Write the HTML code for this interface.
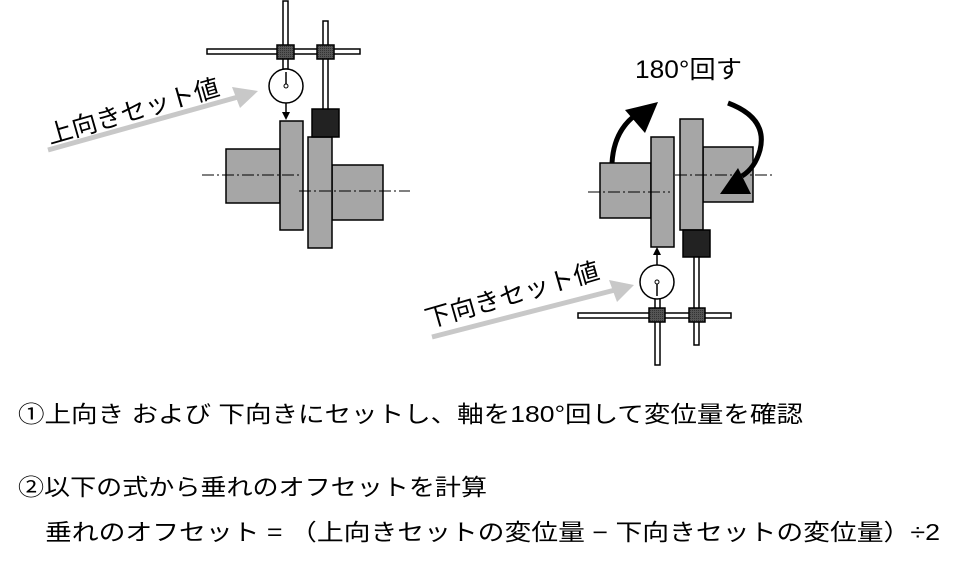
<!DOCTYPE html>
<html><head><meta charset="utf-8"><style>
html,body{margin:0;padding:0;background:#fff;}
svg{display:block;}
text{font-family:"Liberation Sans","Noto Sans CJK JP",sans-serif;fill:#000;}
</style></head><body>
<svg width="957" height="564" viewBox="0 0 957 564" xmlns="http://www.w3.org/2000/svg">
<defs><pattern id="dot" width="2" height="2" patternUnits="userSpaceOnUse"><rect width="2" height="2" fill="#555"/><rect width="1" height="1" fill="#333"/></pattern></defs>
<!-- LEFT DIAGRAM -->
<g stroke="#000" stroke-width="1.5">
<rect x="226" y="149" width="54" height="54" fill="#a6a6a6"/>
<rect x="332" y="165" width="51" height="55" fill="#a6a6a6"/>
<rect x="280" y="121" width="23" height="109" fill="#a6a6a6"/>
<rect x="308" y="137" width="24" height="111" fill="#a6a6a6"/>
<rect x="312" y="109" width="27" height="28" fill="#222"/>
<rect x="283" y="1" width="5" height="68" fill="#fff"/>
<rect x="323" y="21" width="5" height="88" fill="#fff"/>
<rect x="207" y="49" width="153" height="5" fill="#fff"/>
<rect x="277" y="45" width="17" height="14" fill="url(#dot)"/>
<rect x="317" y="45" width="17" height="14" fill="url(#dot)"/>
<circle cx="286" cy="86" r="17" fill="#fff"/>
<line x1="286" y1="86" x2="286" y2="72"/>
<circle cx="286" cy="86" r="2" fill="#fff" stroke-width="1"/>
<line x1="286" y1="103" x2="286" y2="113"/>
</g>
<polygon points="282,112 290,112 286,120" fill="#000"/>
<g stroke="#000" stroke-width="1" stroke-dasharray="12,3,2,3">
<line x1="202" y1="175" x2="300" y2="175"/>
<line x1="299" y1="191" x2="410" y2="191"/>
</g>
<line x1="48" y1="150" x2="238" y2="97" stroke="#c8c8c8" stroke-width="5"/>
<polygon points="232,87 258,91 240,108" fill="#c8c8c8"/>
<text x="0" y="0" font-size="25" transform="translate(50,144) rotate(-16)" textLength="178" lengthAdjust="spacingAndGlyphs">上向きセット値</text>

<!-- RIGHT DIAGRAM -->
<text x="635" y="78" font-size="25" textLength="107" lengthAdjust="spacingAndGlyphs">180°回す</text>
<g stroke="#000" stroke-width="1.5">
<rect x="600" y="163" width="51" height="55" fill="#a6a6a6"/>
<rect x="703" y="147" width="50" height="55" fill="#a6a6a6"/>
<rect x="651" y="137" width="23" height="110" fill="#a6a6a6"/>
<rect x="680" y="119" width="23" height="111" fill="#a6a6a6"/>
<rect x="683" y="230" width="27" height="27" fill="#222"/>
<rect x="655" y="298" width="5" height="67" fill="#fff"/>
<rect x="694" y="257" width="5" height="88" fill="#fff"/>
<rect x="578" y="313" width="153" height="5" fill="#fff"/>
<rect x="649" y="308" width="16" height="14" fill="url(#dot)"/>
<rect x="689" y="308" width="16" height="14" fill="url(#dot)"/>
<circle cx="657" cy="282" r="17" fill="#fff"/>
<line x1="657" y1="282" x2="657" y2="296"/>
<circle cx="657" cy="282" r="2" fill="#fff" stroke-width="1"/>
<line x1="657" y1="265" x2="657" y2="254"/>
</g>
<polygon points="653,255 661,255 657,247" fill="#000"/>
<g stroke="#000" stroke-width="1" stroke-dasharray="12,3,2,3">
<line x1="588" y1="192" x2="670" y2="192"/>
<line x1="675" y1="175" x2="773" y2="175"/>
</g>
<path d="M612,163 Q614,128 640,112" fill="none" stroke="#000" stroke-width="5"/>
<polygon points="625,110 658,102 645,133" fill="#000"/>
<path d="M728,103 Q768,118 760,150 Q755,168 742,176" fill="none" stroke="#000" stroke-width="5"/>
<polygon points="720,194 751,194 738,168" fill="#000"/>
<line x1="432" y1="337" x2="615" y2="290" stroke="#c8c8c8" stroke-width="5"/>
<polygon points="609,280 634,285 617,302" fill="#c8c8c8"/>
<text x="0" y="0" font-size="25" transform="translate(428,328) rotate(-16)" textLength="180" lengthAdjust="spacingAndGlyphs">下向きセット値</text>

<text x="18" y="422" font-size="23" textLength="785" lengthAdjust="spacingAndGlyphs">①上向き および 下向きにセットし、軸を180°回して変位量を確認</text>
<text x="18" y="495" font-size="23" textLength="469" lengthAdjust="spacingAndGlyphs">②以下の式から垂れのオフセットを計算</text>
<text x="45" y="540" font-size="23" textLength="895" lengthAdjust="spacingAndGlyphs">垂れのオフセット = （上向きセットの変位量 − 下向きセットの変位量）÷2</text>
</svg>
</body></html>
